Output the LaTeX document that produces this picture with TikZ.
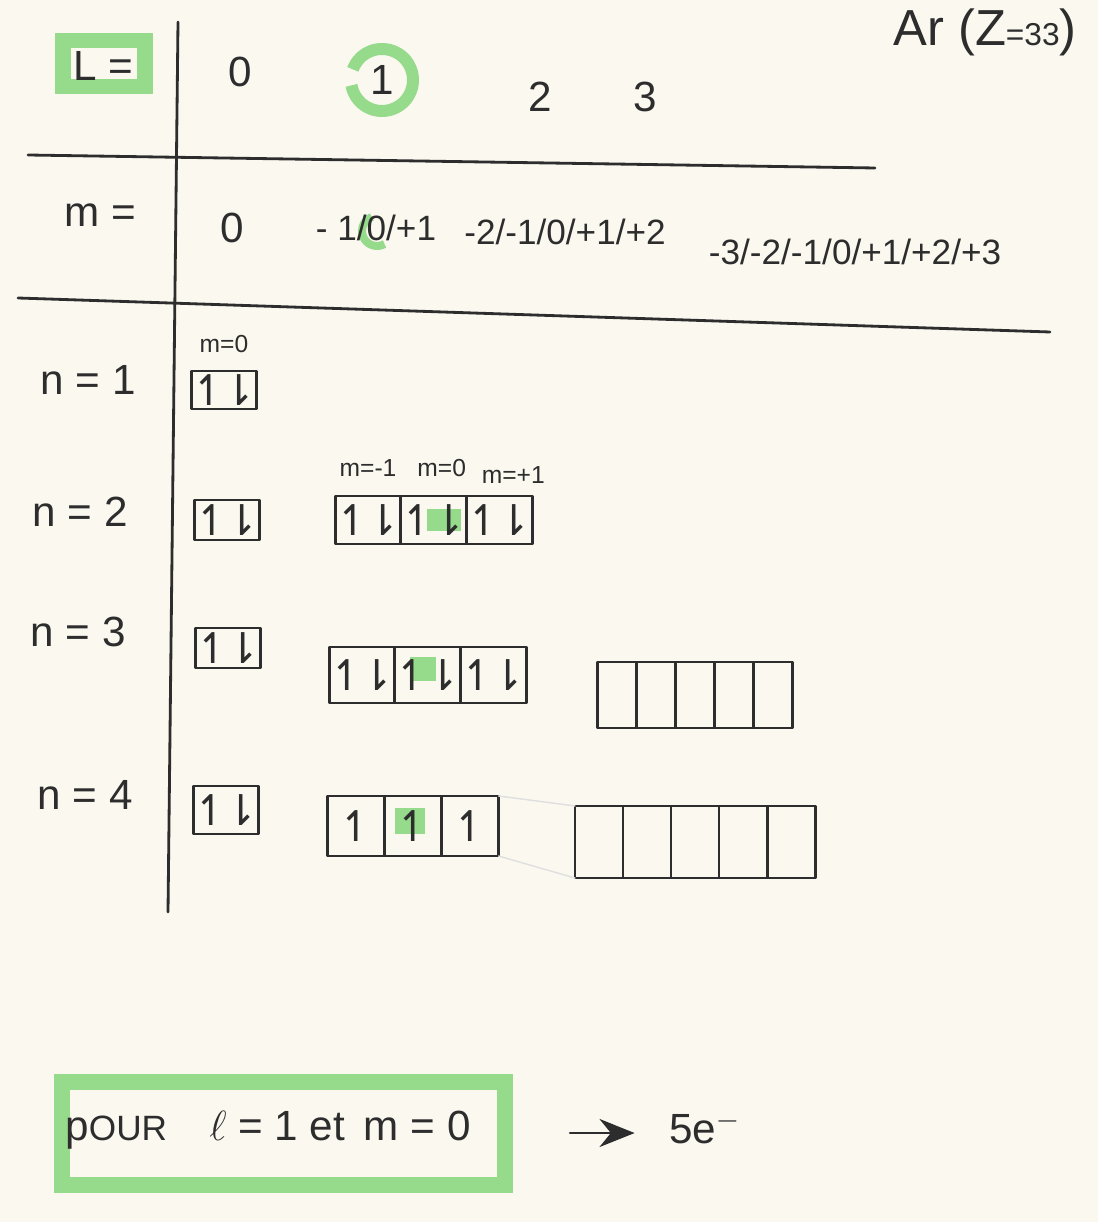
\documentclass[tikz,border=0pt]{standalone}
\usepackage{fontspec}
\setmainfont{Liberation Sans}
\newfontfamily\arrowfont{DejaVu Sans}
\usetikzlibrary{positioning,arrows.meta,backgrounds}
\definecolor{paper}{RGB}{250,248,239}
\definecolor{marker}{RGB}{150,218,140}
\definecolor{ink}{RGB}{45,45,45}
\tikzset{
  cell/.style={draw=ink,thick,outer sep=0pt,inner sep=0pt,font=\arrowfont\large,text=ink},
  hand/.style={font=\large,text=ink},
  mlab/.style={font=\scriptsize,text=ink},
  hilite/.style={fill=marker,inner sep=0pt},
}
\newcommand{\elpair}{↿\kern-0.12em⇂}
\newcommand{\elup}{↿}
\begin{document}
\begin{tikzpicture}[x=0.01cm,y=-0.01cm,line cap=round,line join=round,>=Stealth]
	\useasboundingbox (0,0) rectangle (1098,1222);
	% table lines
	\draw [ink,thick] (178,22) -- (168,912);
	\draw [ink,thick] (28,155) -- (875,168);
	\draw [ink,thick] (18,298) -- (1050,332);
	% header rows
	\node [hand] (lhead) at (103,66) {L =};
	\node [hand] (l0) at (240,72) {0};
	\node [hand] (l1) at (382,80) {1};
	\node [hand] (l2) at (540,97) {2};
	\node [hand] (l3) at (645,97) {3};
	\node [font=\Large,text=ink] (atom) at (985,32) {Ar (Z{\small =33})};
	\node [hand] (mhead) at (100,215) {m =};
	\node [hand] (m0) at (232,228) {0};
	\node [text=ink] (m1) at (376,228) {- 1/0/+1};
	\node [text=ink] (m2) at (565,232) {-2/-1/0/+1/+2};
	\node [text=ink] (m3) at (855,252) {-3/-2/-1/0/+1/+2/+3};
	% shells
	\node [hand] (n1) at (88,380) {n = 1};
	\node [hand] (n2) at (80,512) {n = 2};
	\node [hand] (n3) at (78,632) {n = 3};
	\node [hand] (n4) at (85,795) {n = 4};
	% s boxes
	\node [cell,minimum width=0.48cm,minimum height=0.38cm] (s1) at (224,390) {\elpair};
	\node [mlab,above=0.06cm of s1] (s1m) {m=0};
	\node [cell,minimum width=0.52cm,minimum height=0.40cm] (s2) at (227,520) {\elpair};
	\node [cell,minimum width=0.54cm,minimum height=0.40cm] (s3) at (228,648) {\elpair};
	\node [cell,minimum width=0.52cm,minimum height=0.48cm] (s4) at (226,810) {\elpair};
	% p boxes
	\begin{scope}[every node/.append style={cell,minimum width=0.56cm,minimum height=0.48cm}]
		\node (p2a) at (368,520) {\elpair};
		\node [right=0pt of p2a] (p2b) {\elpair};
		\node [right=0pt of p2b] (p2c) {\elpair};
	\end{scope}
	\node [mlab,above=0.07cm of p2a] (p2am) {m=-1};
	\node [mlab,above=0.07cm of p2b,xshift=0.08cm] (p2bm) {m=0};
	\node [mlab,above=0cm of p2c,xshift=0.14cm] (p2cm) {m=+1};
	\begin{scope}[every node/.append style={cell,minimum width=0.63cm,minimum height=0.56cm}]
		\node (p3a) at (362,675) {\elpair};
		\node [right=0pt of p3a] (p3b) {\elpair};
		\node [right=0pt of p3b] (p3c) {\elpair};
	\end{scope}
	\begin{scope}[every node/.append style={cell,minimum width=0.57cm,minimum height=0.60cm}]
		\node (p4a) at (356,826) {\elup};
		\node [right=0pt of p4a] (p4b) {\elup};
		\node [right=0pt of p4b] (p4c) {\elup};
	\end{scope}
	% d boxes
	\begin{scope}[every node/.append style={cell,minimum width=0.39cm,minimum height=0.66cm}]
		\node (d3a) at (617,695) {};
		\foreach \a/\b in {a/b,b/c,c/d,d/e}
			\node [right=0pt of d3\a] (d3\b) {};
	\end{scope}
	\begin{scope}[every node/.append style={cell,minimum width=0.48cm,minimum height=0.72cm}]
		\node (d4a) at (599,842) {};
		\foreach \a/\b in {a/b,b/c,c/d,d/e}
			\node [right=0pt of d4\a] (d4\b) {};
	\end{scope}
	\draw [gray!25] (p4c.north east) -- (d4a.north west) (p4c.south east) -- (d4a.south west);
	% conclusion
	\node [font=\large,text=ink] (pour) at (268,1130) {p{\normalsize OUR}\quad $\ell$ = 1 et\, m = 0};
	\coordinate (arrowstart) at (570,1133);
	\node [font=\large,text=ink] (count) at (705,1128) {5e$^-$};
	\draw [ink,semithick,-{Stealth[length=10pt,width=8pt]},shorten >=0.22cm] (arrowstart) -- (count.west |- arrowstart);
	% marker highlights
	\begin{scope}[on background layer]
		\fill [paper] (0,0) rectangle (1098,1222);
		\draw [marker,line width=0.15cm] (63,41) rectangle (145,87);
		\draw [marker,line width=0.12cm] (l1) ++(200:31) arc [start angle=200,end angle=530,radius=31];
		\draw [marker,line width=0.08cm] (377,231) ++(60:15) arc [start angle=60,end angle=250,radius=15];
		\draw [marker,line width=0.16cm] (62,1082) rectangle (505,1185);
		\node [hilite,minimum width=0.34cm,minimum height=0.22cm] at ([xshift=0.1cm]p2b) {};
		\node [hilite,minimum width=0.26cm,minimum height=0.24cm] at ([xshift=-0.05cm,yshift=0.06cm]p3b) {};
		\node [hilite,minimum width=0.3cm,minimum height=0.26cm] at ([xshift=-0.03cm,yshift=0.05cm]p4b) {};
	\end{scope}
\end{tikzpicture}
\end{document}
